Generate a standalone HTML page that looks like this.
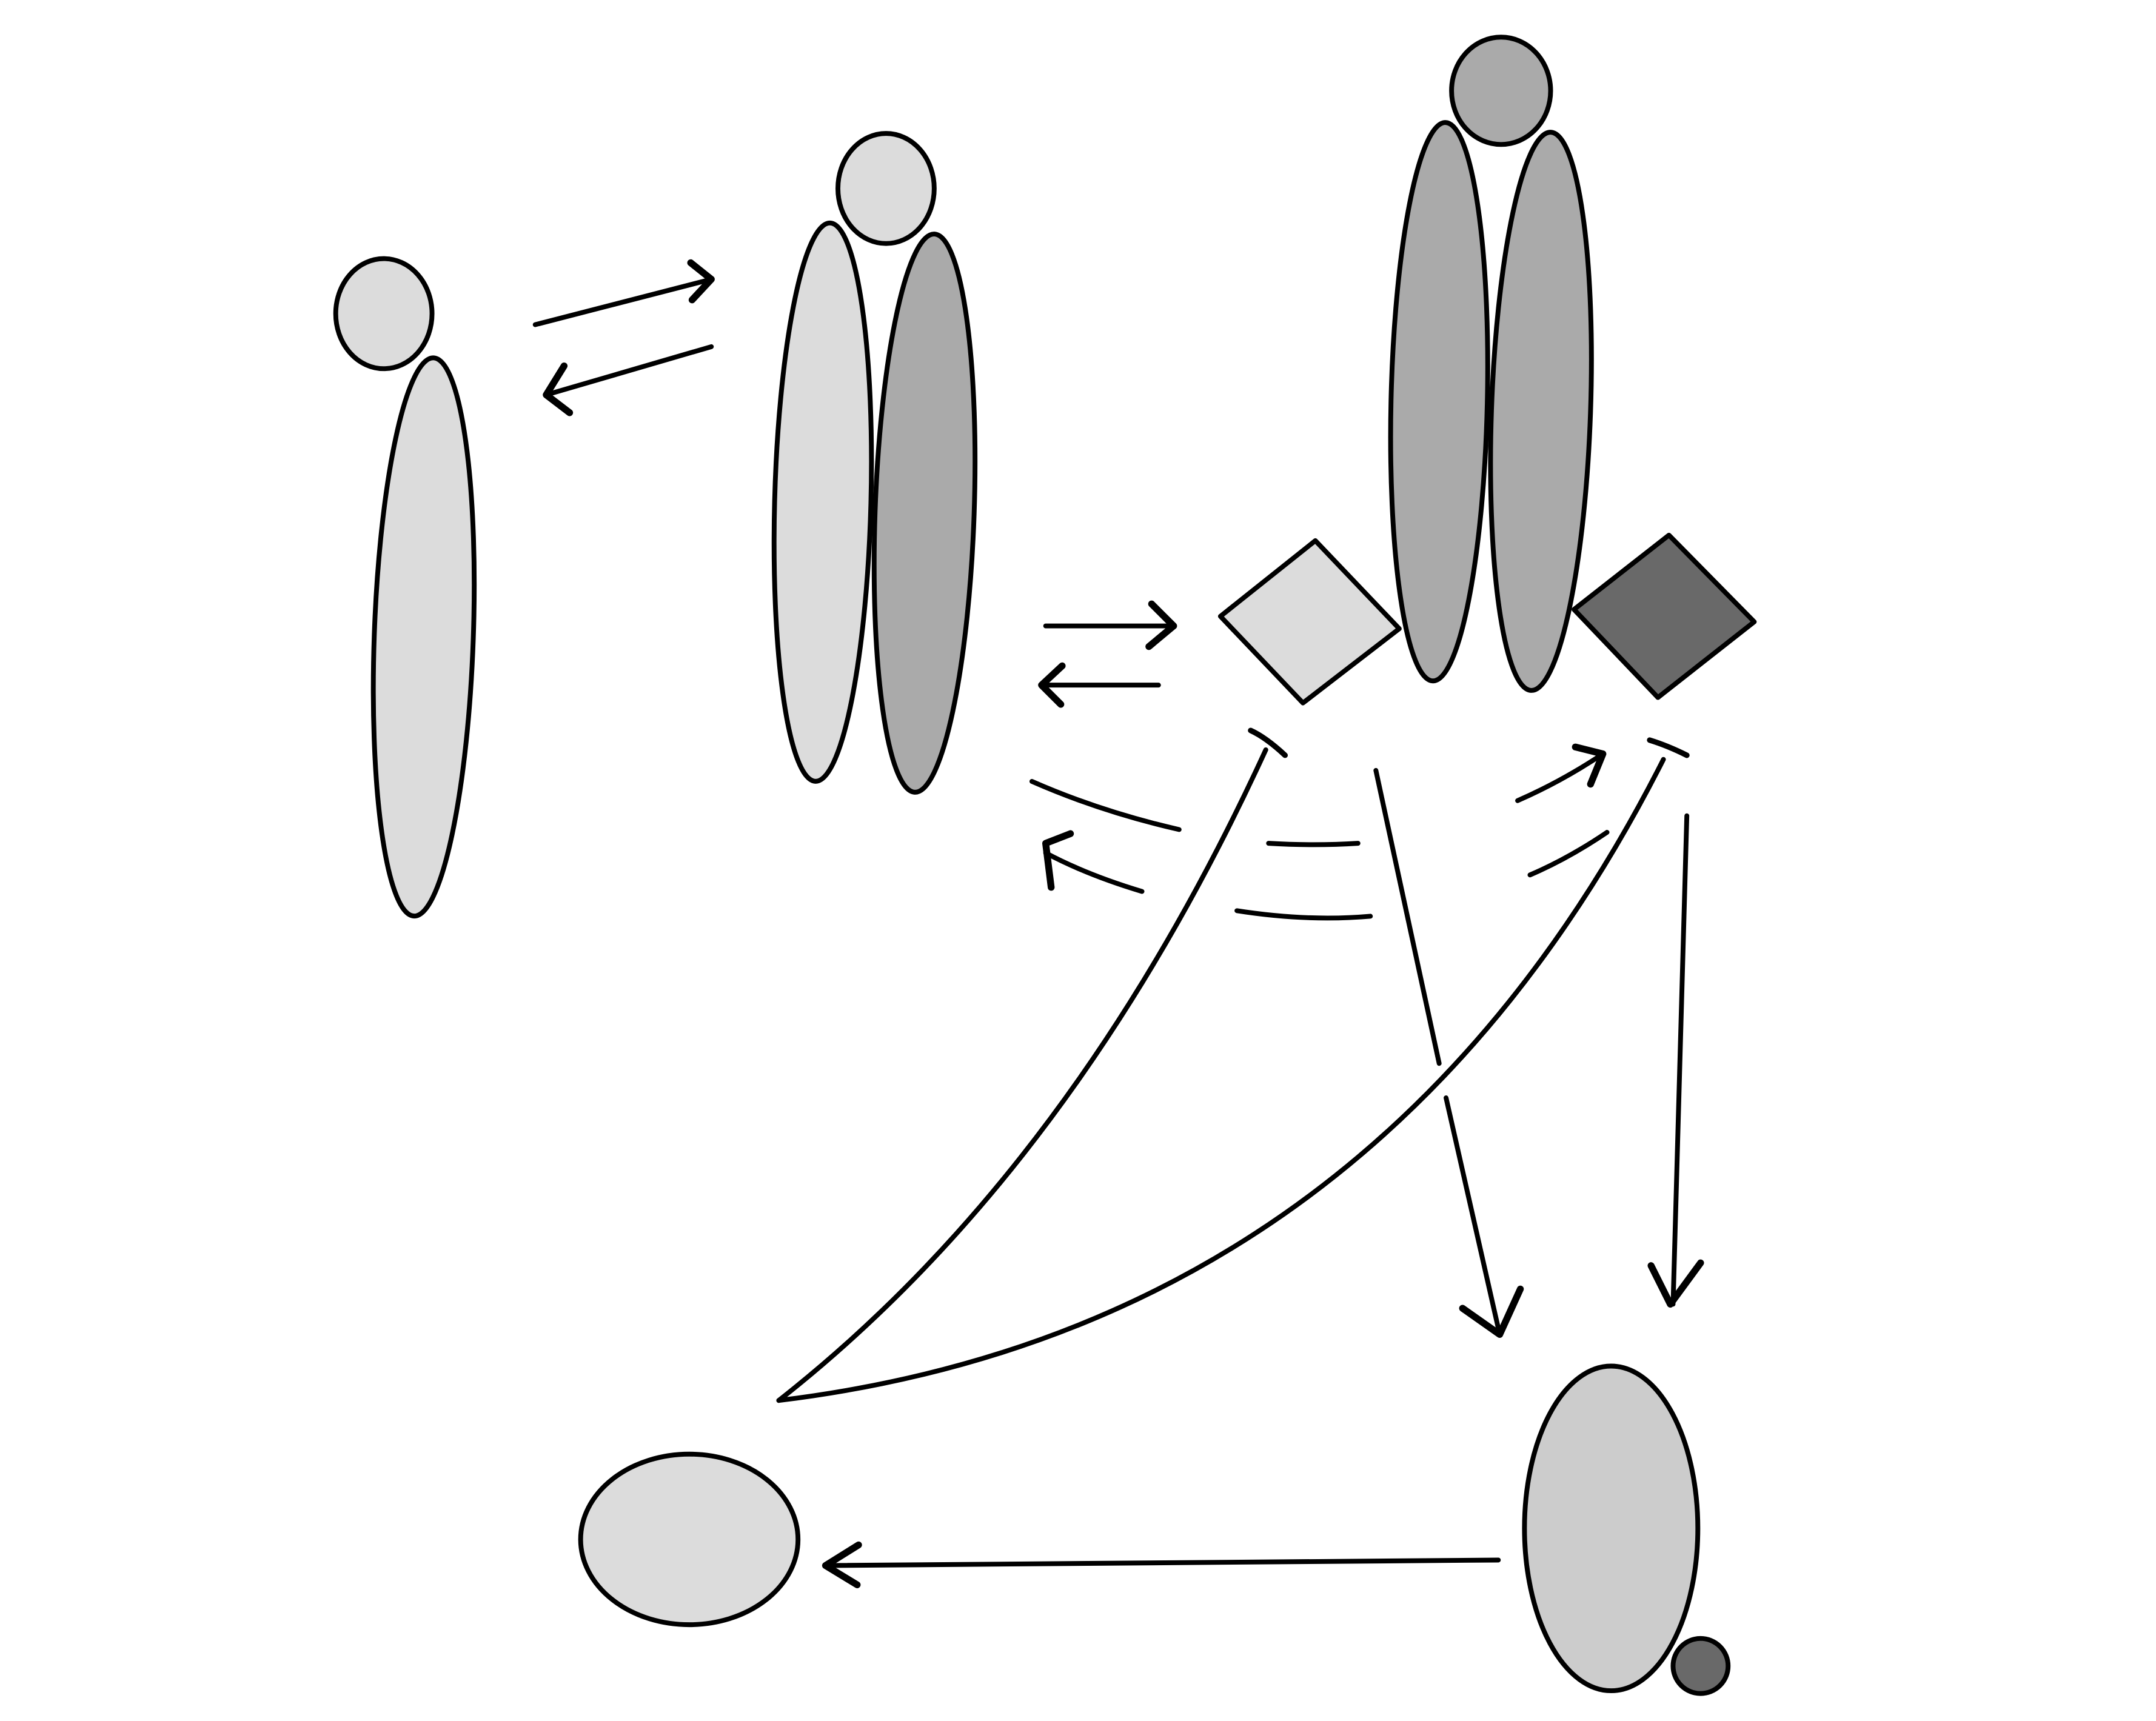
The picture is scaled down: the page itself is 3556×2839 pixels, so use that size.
<!DOCTYPE html>
<html><head><meta charset="utf-8"><style>
html,body{margin:0;padding:0;background:#fff}
svg{display:block}
</style></head><body>
<svg width="3556" height="2839" viewBox="0 0 1567 1251" preserveAspectRatio="none" xmlns="http://www.w3.org/2000/svg">
<g stroke="#000" stroke-width="3.5" fill="none" stroke-linecap="round" stroke-linejoin="round">
<ellipse cx="279" cy="228" rx="35" ry="40" fill="#dcdcdc"/>
<ellipse cx="308" cy="463" rx="36" ry="203" fill="#dcdcdc" transform="rotate(2 308 463)"/>
<ellipse cx="644" cy="137" rx="35" ry="40" fill="#dcdcdc"/>
<ellipse cx="598" cy="365" rx="35" ry="203" fill="#dcdcdc" transform="rotate(1.5 598 365)"/>
<ellipse cx="672" cy="373" rx="36" ry="203" fill="#aaaaaa" transform="rotate(2 672 373)"/>
<ellipse cx="1091" cy="66" rx="36" ry="39" fill="#aaaaaa"/>
<ellipse cx="1046" cy="292" rx="35" ry="203" fill="#aaaaaa" transform="rotate(1.3 1046 292)"/>
<ellipse cx="1120" cy="299" rx="36" ry="203" fill="#aaaaaa" transform="rotate(2 1120 299)"/>
<polygon points="887,448 956,393 1017,457 947,511" fill="#dcdcdc"/>
<polygon points="1144,443 1213,389 1275,452 1205,507" fill="#696969"/>
<ellipse cx="501" cy="1119" rx="79" ry="62" fill="#dcdcdc"/>
<ellipse cx="1171" cy="1111" rx="63" ry="118" fill="#cccccc"/>
<circle cx="1236" cy="1211" r="20" fill="#696969"/>
<line x1="389" y1="236" x2="517" y2="203"/>
<path d="M502,191 L517,203 L503,218" stroke-width="5"/>
<line x1="517" y1="252" x2="397" y2="287"/>
<path d="M410,266 L397,287 L414,300" stroke-width="5"/>
<line x1="760" y1="455" x2="853" y2="455"/>
<path d="M837,439 L853,455 L835,470" stroke-width="5"/>
<line x1="842" y1="498" x2="757" y2="498"/>
<path d="M772,484 L757,498 L771,512" stroke-width="5"/>
<path d="M750,568 Q800,590 857,603"/>
<path d="M830,648 Q790,636 760,620"/>
<path d="M778,606 L760,613 L764,645" stroke-width="5"/>
<path d="M922,613 Q955,615 987,613"/>
<path d="M899,662 Q950,670 996,666"/>
<path d="M1103,582 Q1135,568 1165,548"/>
<path d="M1145,543 L1165,548 L1156,570" stroke-width="5"/>
<path d="M1112,636 Q1140,624 1168,605"/>
<path d="M920,545 Q780,850 566,1018"/>
<path d="M566,1018 Q1000,965 1209,552"/>
<path d="M909,531 Q920,536 934,549" stroke-width="4"/>
<path d="M1199,538 Q1212,542 1226,549" stroke-width="4"/>
<line x1="1000" y1="560" x2="1046" y2="773"/>
<line x1="1051" y1="798" x2="1090" y2="970"/>
<path d="M1063,951 L1090,970 L1105,937" stroke-width="5"/>
<line x1="1226" y1="593" x2="1216" y2="948"/>
<path d="M1200,920 L1214,948 L1236,918" stroke-width="5"/>
<line x1="1089" y1="1134" x2="600" y2="1138"/>
<path d="M624,1123 L600,1138 L623,1152" stroke-width="5"/>
</g>
</svg>
</body></html>
